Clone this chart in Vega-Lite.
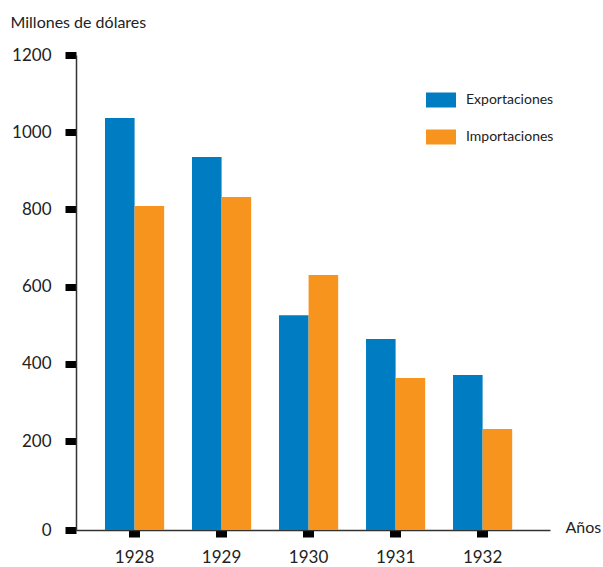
{
  "$schema": "https://vega.github.io/schema/vega-lite/v6.json",
  "width": 474,
  "height": 475,
  "autosize": {"type": "none"},
  "padding": {"left": 76, "top": 55, "right": 53, "bottom": 37},
  "background": "white",
  "data": {
    "values": [
      {"year": "1928", "tipo": "Exportaciones", "valor": 1037},
      {"year": "1928", "tipo": "Importaciones", "valor": 809},
      {"year": "1929", "tipo": "Exportaciones", "valor": 936},
      {"year": "1929", "tipo": "Importaciones", "valor": 832},
      {"year": "1930", "tipo": "Exportaciones", "valor": 526},
      {"year": "1930", "tipo": "Importaciones", "valor": 630},
      {"year": "1931", "tipo": "Exportaciones", "valor": 464},
      {"year": "1931", "tipo": "Importaciones", "valor": 363},
      {"year": "1932", "tipo": "Exportaciones", "valor": 371},
      {"year": "1932", "tipo": "Importaciones", "valor": 231}
    ]
  },
  "mark": {"type": "bar"},
  "encoding": {
    "x": {
      "field": "year",
      "type": "nominal",
      "scale": {"paddingInner": 0.32, "paddingOuter": 0.384, "align": 0.434},
      "axis": {
        "title": "Años",
        "titleAngle": 0,
        "titleX": 489,
        "titleY": 2,
        "titleAlign": "left",
        "titleBaseline": "alphabetic",
        "titleFont": "Lato",
        "titleFontSize": 16,
        "titleFontWeight": "normal",
        "titleColor": "#222",
        "labelAngle": 0,
        "labelFont": "Lato",
        "labelFontSize": 17,
        "labelColor": "#222",
        "labelPadding": 12,
        "tickSize": 7,
        "tickWidth": 11,
        "tickColor": "black",
        "domainColor": "#333",
        "domainWidth": 1.5
      }
    },
    "xOffset": {
      "field": "tipo",
      "type": "nominal",
      "sort": ["Exportaciones", "Importaciones"],
      "scale": {"paddingInner": 0, "paddingOuter": 0}
    },
    "y": {
      "field": "valor",
      "type": "quantitative",
      "scale": {"domain": [0, 200, 1200], "range": [475, 386, 0]},
      "axis": {
        "values": [0, 200, 400, 600, 800, 1000, 1200],
        "format": "d",
        "grid": false,
        "title": "Millones de dólares",
        "titleAngle": 0,
        "titleX": -66,
        "titleY": -28,
        "titleAlign": "left",
        "titleBaseline": "alphabetic",
        "titleFont": "Lato",
        "titleFontSize": 16,
        "titleFontWeight": "normal",
        "titleColor": "#222",
        "labelFont": "Lato",
        "labelFontSize": 17,
        "labelColor": "#222",
        "labelPadding": 14,
        "tickSize": 11,
        "tickWidth": 7,
        "tickColor": "black",
        "domainColor": "#333",
        "domainWidth": 1.5
      }
    },
    "color": {
      "field": "tipo",
      "type": "nominal",
      "scale": {"domain": ["Exportaciones", "Importaciones"], "range": ["#007CC3", "#F7941D"]},
      "legend": {
        "title": null,
        "orient": "none",
        "legendX": 350,
        "legendY": 30,
        "symbolType": "M-1,-0.5H1V0.5H-1Z",
        "symbolSize": 900,
        "symbolStrokeWidth": 0,
        "symbolOpacity": 1,
        "labelFont": "Lato",
        "labelFontSize": 14,
        "labelColor": "#222",
        "labelOffset": 10,
        "rowPadding": 14
      }
    }
  },
  "config": {"view": {"stroke": null}}
}
